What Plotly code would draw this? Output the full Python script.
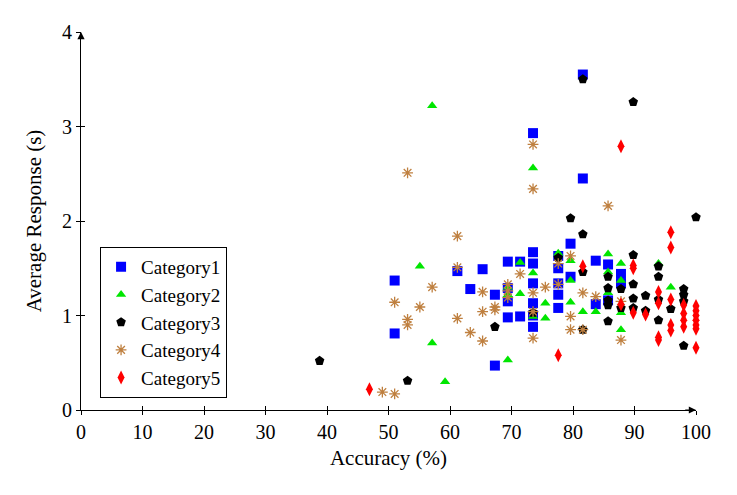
import plotly.graph_objects as go

# accuracy (%) / average response (s) per category
cat1_x = [51.0, 51.0, 61.2, 63.3, 65.3, 67.3, 67.3, 69.4, 69.4, 69.4, 69.4, 71.4, 71.4,
          73.5, 73.5, 73.5, 73.5, 73.5, 73.5, 73.5, 77.6, 77.6, 77.6, 77.6, 77.6,
          79.6, 79.6, 81.6, 81.6, 83.7, 83.7, 85.7, 85.7, 87.8, 87.8]
cat1_y = [1.37, 0.81, 1.47, 1.28, 1.49, 1.22, 0.47, 1.57, 1.29, 1.15, 0.98, 1.57, 0.99,
          2.93, 1.67, 1.55, 1.34, 1.13, 1.00, 0.88, 1.63, 1.50, 1.34, 1.22, 1.08,
          1.76, 1.41, 3.55, 2.45, 1.58, 1.12, 1.54, 1.16, 1.44, 1.34]

cat2_x = [55.1, 57.1, 57.1, 59.2, 69.4, 69.4, 69.4, 71.4, 71.4, 73.5, 73.5, 73.5,
          75.5, 75.5, 77.6, 79.6, 79.6, 79.6, 81.6, 83.7, 85.7, 85.7, 85.7,
          87.8, 87.8, 87.8, 87.8, 93.9, 95.9]
cat2_y = [1.52, 3.22, 0.71, 0.30, 1.30, 1.22, 0.53, 1.56, 1.23, 2.56, 1.45, 0.99,
          1.13, 0.97, 1.66, 1.58, 1.37, 1.14, 1.04, 1.04, 1.65, 1.46, 1.24,
          1.55, 1.37, 1.03, 0.85, 1.55, 1.30]

cat3_x = [38.8, 53.1, 67.3, 73.5, 77.6, 79.6, 81.6, 81.6, 81.6, 81.6,
          85.7, 85.7, 85.7, 85.7, 85.7, 87.8, 87.8, 89.8, 89.8, 89.8, 89.8, 89.8,
          91.8, 91.8, 93.9, 93.9, 93.9, 93.9, 95.9, 98.0, 98.0, 98.0, 98.0, 100.0]
cat3_y = [0.52, 0.31, 0.88, 1.03, 1.61, 2.03, 3.50, 1.86, 1.46, 0.85,
          1.41, 1.29, 1.16, 1.11, 0.94, 1.28, 1.08, 3.26, 1.64, 1.33, 1.18, 1.08,
          1.21, 1.05, 1.52, 1.41, 1.17, 0.95, 1.07, 1.28, 1.22, 1.15, 0.68, 2.04]

cat4_x = [49.0, 51.0, 51.0, 53.1, 53.1, 53.1, 55.1, 57.1, 61.2, 61.2, 61.2, 63.3,
          65.3, 65.3, 65.3, 67.3, 67.3, 69.4, 69.4, 69.4, 71.4, 73.5, 73.5, 73.5,
          73.5, 73.5, 75.5, 77.6, 77.6, 79.6, 79.6, 79.6, 81.6, 81.6, 83.7, 85.7,
          87.8, 87.8]
cat4_y = [0.19, 1.14, 0.17, 2.51, 0.96, 0.90, 1.09, 1.30, 1.84, 1.51, 0.97, 0.82,
          1.25, 1.04, 0.73, 1.09, 1.06, 1.33, 1.26, 1.19, 1.44, 2.81, 2.34, 1.24,
          1.04, 0.76, 1.30, 1.55, 1.33, 1.63, 0.99, 0.85, 1.24, 0.85, 1.20, 2.16,
          1.15, 0.74]

cat5_x = [46.9, 77.6, 81.6, 87.8, 87.8, 89.8, 89.8, 89.8, 91.8, 93.9, 93.9, 93.9, 93.9,
          95.9, 95.9, 95.9, 95.9, 95.9, 98.0, 98.0, 98.0, 98.0,
          100.0, 100.0, 100.0, 100.0, 100.0, 100.0, 100.0]
cat5_y = [0.22, 0.58, 1.52, 2.79, 1.12, 1.53, 1.50, 1.03, 1.01, 1.25, 1.13, 0.77, 0.74,
          1.88, 1.72, 1.17, 0.90, 0.84, 1.11, 1.02, 0.95, 0.88,
          1.10, 1.05, 1.00, 0.95, 0.90, 0.86, 0.66]

x_ticks = [0, 10, 20, 30, 40, 50, 60, 70, 80, 90, 100]
y_ticks = [0, 1, 2, 3, 4]

FONT = "Liberation Serif"

series = [
    ("Category1", cat1_x, cat1_y, "square", "#0000ff", 10),
    ("Category2", cat2_x, cat2_y, "triangle-up", "#00e600", 9),
    ("Category3", cat3_x, cat3_y, "pentagon", "#000000", 10),
    ("Category4", cat4_x, cat4_y, "asterisk-open", "#bf8040", 9),
    ("Category5", cat5_x, cat5_y, "diamond-tall", "#ff0000", 10),
]

fig = go.Figure()
for name, xs, ys, symbol, color, size in series:
    fig.add_trace(go.Scatter(
        x=xs, y=ys, mode="markers", name=name, cliponaxis=False,
        marker=dict(symbol=symbol, color=color, size=size,
                    line=dict(color=color, width=1.3 if symbol == "asterisk-open" else 0)),
    ))

# dummy trace so the overlaid axes (inside half of the ticks) get drawn
fig.add_trace(go.Scatter(x=[], y=[], xaxis="x2", yaxis="y2", showlegend=False))

axis_common = dict(showgrid=False, zeroline=False, showline=True, linecolor="black",
                   linewidth=1.2, ticklen=4, tickcolor="black", tickwidth=1,
                   tickfont=dict(family=FONT, size=20, color="black"))

# the page adds an 8px body margin, so left/top margins are trimmed by 8
fig.update_layout(
    width=737, height=495,
    margin=dict(l=73, r=49, t=24, b=93),
    plot_bgcolor="white", paper_bgcolor="white",
    font=dict(family=FONT, size=20, color="black"),
    xaxis=dict(range=[0, 100], tickvals=x_ticks, ticks="outside",
               title=dict(text="Accuracy (%)", font=dict(family=FONT, size=21), standoff=8),
               **axis_common),
    yaxis=dict(range=[0, 4], tickvals=y_ticks, ticks="outside",
               title=dict(text="Average Response (s)", font=dict(family=FONT, size=21), standoff=14),
               **axis_common),
    xaxis2=dict(range=[0, 100], tickvals=x_ticks, ticks="inside", overlaying="x",
                showticklabels=False, **axis_common),
    yaxis2=dict(range=[0, 4], tickvals=y_ticks, ticks="inside", overlaying="y",
                showticklabels=False, **axis_common),
    legend=dict(x=0.031, y=0.032, xanchor="left", yanchor="bottom",
                bordercolor="black", borderwidth=1, bgcolor="white",
                font=dict(family=FONT, size=19), itemwidth=30,
                tracegroupgap=0),
    showlegend=True,
)

# arrow heads at the end of both axis lines
fig.add_annotation(x=100, y=0, ax=98, ay=0, xref="x", yref="y", axref="x", ayref="y",
                   showarrow=True, arrowhead=2, arrowsize=1.2, arrowwidth=1.2,
                   arrowcolor="black", text="")
fig.add_annotation(x=0, y=4, ax=0, ay=3.93, xref="x", yref="y", axref="x", ayref="y",
                   showarrow=True, arrowhead=2, arrowsize=1.2, arrowwidth=1.2,
                   arrowcolor="black", text="")

fig.write_html("out.html")
